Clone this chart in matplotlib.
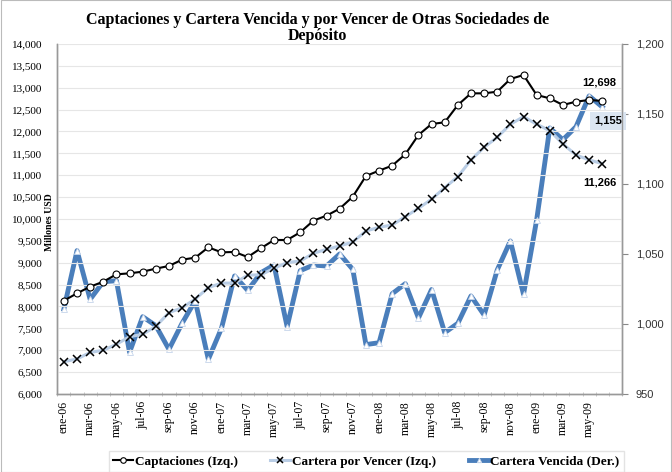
import matplotlib.pyplot as plt
from matplotlib.font_manager import FontProperties
import numpy as np

# Monthly labels ene-06 .. jun-09 (42 months)
meses = ['ene', 'feb', 'mar', 'abr', 'may', 'jun', 'jul', 'ago', 'sep', 'oct', 'nov', 'dic']
fechas = [m + '-' + a for a in ['06', '07', '08', '09'] for m in meses][:42]

# Captaciones (millones USD, left axis)
captaciones = [8133, 8301, 8453, 8567, 8735, 8758, 8796, 8865, 8926, 9070,
               9116, 9352, 9238, 9246, 9130, 9330, 9520, 9520, 9696, 9962,
               10076, 10236, 10510, 10983, 11105, 11219, 11479, 11920, 12171, 12210,
               12606, 12872, 12872, 12910, 13200, 13291, 12834, 12758, 12606, 12682,
               12720, 12698]

# Cartera por vencer (left axis)
por_vencer = [6738, 6800, 6950, 7000, 7135, 7310, 7364, 7545, 7859, 7970,
              8171, 8430, 8535, 8535, 8715, 8725, 8872, 9002, 9040, 9215,
              9307, 9383, 9474, 9725, 9810, 9863, 10053, 10244, 10452, 10716,
              10967, 11349, 11640, 11867, 12165, 12339, 12165, 12019, 11714, 11463,
              11349, 11266]

# Cartera vencida (right axis)
vencida = [1010.7, 1052.4, 1017.6, 1030.2, 1030.9, 979.8, 1005.2, 998.8, 981.9, 1000.5,
           1016.6, 974.8, 996.9, 1034.3, 1024.0, 1036.6, 1042.1, 998.1, 1038.1, 1042.1,
           1041.4, 1050.0, 1039.0, 985.3, 986.6, 1021.6, 1028.8, 1004.3, 1024.6, 993.8,
           1000.5, 1020.0, 1006.4, 1038.6, 1059.3, 1021.2, 1074.3, 1140.0, 1131.6, 1140.9,
           1162.9, 1155.0]

x = np.arange(len(fechas))

fig = plt.figure(figsize=(6.72, 4.72), dpi=100)
ax = fig.add_axes([0.0853, 0.1653, 0.8403, 0.7415])
ax2 = ax.twinx()

serif = 'Liberation Serif'
sans = 'Liberation Sans'

l3, = ax2.plot(x, vencida, color='#4a7ebb', lw=3.5, marker='^', ms=4,
               mfc='white', mec='#c6d5ea', mew=0.6, zorder=3,
               label='Cartera Vencida (Der.)')
l2, = ax.plot(x, por_vencer, color='#b9cde5', lw=2.2, marker='x', ms=6,
              mec='black', mew=1.1, zorder=3, label='Cartera por Vencer (Izq.)')
l1, = ax.plot(x, captaciones, color='black', lw=1.5, marker='o', ms=5,
              mfc='white', mec='black', mew=0.8, zorder=4, label='Captaciones (Izq.)')

ax.set_zorder(ax2.get_zorder() + 1)
ax.patch.set_visible(False)

ax.set_xlim(-0.5, len(fechas) + 0.5)
ax.set_ylim(6000, 14000)
ax2.set_ylim(950, 1200)

yt = np.arange(6000, 14001, 500)
ax.set_yticks(yt)
ax.set_yticklabels([f'{v:,}' for v in yt], fontfamily=serif, fontsize=8)
ax.yaxis.grid(True, color='#e6e6e6', lw=0.8)
ax.set_axisbelow(True)
ax.tick_params(axis='y', length=0, pad=11)

yt2 = np.arange(950, 1201, 50)
ax2.set_yticks(yt2)
ax2.set_yticklabels([f'{v:,}' for v in yt2], fontfamily=sans, fontsize=8, color='#333333')
ax2.tick_params(axis='y', length=4, color='#888888', pad=6)

ax.set_xticks(x[::2])
ax.set_xticklabels(fechas[::2], rotation=90, fontfamily=serif, fontsize=8.5)
ax.set_xticks(np.arange(-0.5, len(fechas) + 0.6, 1), minor=True)
ax.tick_params(axis='x', which='major', length=0, pad=5)
ax.tick_params(axis='x', which='minor', length=3, color='#bbbbbb', direction='inout')

for a in (ax, ax2):
    a.spines['top'].set_visible(False)
    for s in ('left', 'bottom', 'right'):
        a.spines[s].set_color('#999999')
        a.spines[s].set_linewidth(1.0)

ax.set_ylabel('Millones USD', fontfamily=serif, fontsize=7, fontweight='bold')
ax.yaxis.set_label_coords(-0.006, 0.49)

ax.set_title('Captaciones y Cartera Vencida y por Vencer de Otras Sociedades de\nDepósito',
             fontfamily=serif, fontsize=11.5, fontweight='bold', linespacing=1.0, pad=3,
             x=0.46)

# data labels
ax.annotate(f'{captaciones[-1]:,}', (x[-1], captaciones[-1]), xytext=(-2, 10),
            textcoords='offset points', ha='center', va='bottom', fontfamily=sans,
            fontsize=8, fontweight='bold')
ax.annotate(f'{por_vencer[-1]:,}', (x[-1], por_vencer[-1]), xytext=(-2, -10),
            textcoords='offset points', ha='center', va='top', fontfamily=sans,
            fontsize=8, fontweight='bold')
ax2.annotate(f'{vencida[-1]:,.0f}', (x[-1], vencida[-1]), xytext=(4, -10),
             textcoords='offset points', ha='center', va='center', fontfamily=sans,
             fontsize=8, fontweight='bold',
             bbox=dict(boxstyle='square,pad=0.35', fc='#dbe5f1', ec='none'))

legfont = FontProperties(family=serif, weight='bold', size=9.5)
leg = fig.legend(handles=[l1, l2, l3], loc='center', bbox_to_anchor=(0.545, 0.022),
                 ncol=3, frameon=True, fancybox=False, edgecolor='#dddddd',
                 prop=legfont, handlelength=1.5, handletextpad=0.1, columnspacing=2.5,
                 borderpad=0.35, markerscale=0.8)

fig.patches.append(plt.Rectangle((0.001, 0.001), 0.998, 0.998, transform=fig.transFigure,
                                 fill=False, ec='#bbbbbb', lw=0.8))

fig.savefig('out.png', dpi=100)
